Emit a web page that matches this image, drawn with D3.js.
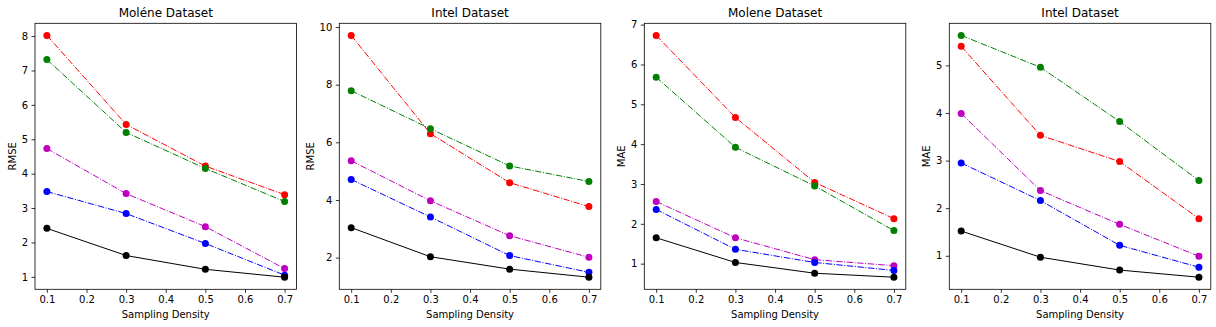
<!DOCTYPE html>
<html><head><meta charset="utf-8">
<script src="https://cdn.jsdelivr.net/npm/d3@7"></script>
<style>
html,body{margin:0;padding:0;background:#fff;}
svg{display:block;font-family:"DejaVu Sans",sans-serif;}
</style></head>
<body>
<svg id="chart" width="1216" height="327"></svg>
<script>
// ---- data ----
const density = [0.1, 0.3, 0.5, 0.7];
const xTicks = [0.1, 0.2, 0.3, 0.4, 0.5, 0.6, 0.7];
const titles = ["Moléne Dataset", "Intel Dataset", "Molene Dataset", "Intel Dataset"];
const yLabels = ["RMSE", "RMSE", "MAE", "MAE"];
const yTicks = [
  [1, 2, 3, 4, 5, 6, 7, 8],
  [2, 4, 6, 8, 10],
  [1, 2, 3, 4, 5, 6, 7],
  [1, 2, 3, 4, 5]
];
const seriesColors = ["#ff0000", "#008000", "#bf00bf", "#0000ff", "#000000"];
const seriesDash = ["dashdot", "dashdot", "dashdot", "dashdot", "solid"];
// values per panel, per series (red, green, magenta, blue, black)
const moleneRMSE = [
  [8.02, 5.43, 4.22, 3.39],
  [7.32, 5.20, 4.15, 3.19],
  [4.73, 3.42, 2.46, 1.24],
  [3.48, 2.84, 1.97, 1.05],
  [2.41, 1.62, 1.22, 0.99]
];
const intelRMSE = [
  [9.71, 6.30, 4.60, 3.77],
  [7.79, 6.47, 5.18, 4.64],
  [5.36, 3.97, 2.76, 2.01],
  [4.71, 3.41, 2.07, 1.49],
  [3.04, 2.03, 1.60, 1.32]
];
const moleneMAE = [
  [6.73, 4.67, 3.04, 2.13],
  [5.68, 3.92, 2.95, 1.83],
  [2.56, 1.65, 1.10, 0.95],
  [2.36, 1.36, 1.03, 0.83],
  [1.65, 1.03, 0.76, 0.66]
];
const intelMAE = [
  [5.40, 3.53, 2.98, 1.78],
  [5.63, 4.96, 3.82, 2.58],
  [3.99, 2.37, 1.66, 0.99],
  [2.95, 2.16, 1.22, 0.76],
  [1.52, 0.97, 0.70, 0.55]
];
const panels = [moleneRMSE, intelRMSE, moleneMAE, intelMAE];

// ---- layout ----
const svg = d3.select("#chart");
const axLefts = [35, 339.3, 644.3, 949.3];
const axW = 261.5, axTop = 23.3, axBottom = 289.3;
const dashMap = {dashdot: "6.4,1.6,1,1.6", solid: null};

panels.forEach((data, p) => {
  const left = axLefts[p];
  const x = d3.scaleLinear()
    .domain([0.1 - 0.03, 0.7 + 0.03])
    .range([left, left + axW]);
  const all = data.flat();
  const mn = d3.min(all), mx = d3.max(all), pad = (mx - mn) * 0.05;
  const y = d3.scaleLinear().domain([mn - pad, mx + pad]).range([axBottom, axTop]);

  const g = svg.append("g");

  const xa = g.append("g").attr("transform", `translate(0,${axBottom})`)
    .call(d3.axisBottom(x).tickValues(xTicks).tickFormat(d3.format(".1f")).tickSize(3.5).tickPadding(3.5));
  const ya = g.append("g").attr("transform", `translate(${left},0)`)
    .call(d3.axisLeft(y).tickValues(yTicks[p]).tickFormat(d3.format("d")).tickSize(3.5).tickPadding(3.5));
  [xa, ya].forEach(a => {
    a.select(".domain").remove();
    a.selectAll(".tick line").attr("stroke", "#000").attr("stroke-width", 0.8);
    a.selectAll(".tick text").attr("fill", "#000").style("font-size", "10px")
      .style("font-family", "'DejaVu Sans', sans-serif");
  });
  xa.selectAll(".tick text").attr("dy", "0.71em");

  const line = d3.line().x((d, i) => x(density[i])).y(d => y(d));
  data.forEach((s, si) => {
    g.append("path").datum(s)
      .attr("d", line)
      .attr("fill", "none")
      .attr("stroke", seriesColors[si])
      .attr("stroke-width", 1)
      .attr("stroke-dasharray", dashMap[seriesDash[si]]);
    g.selectAll(null).data(s).enter().append("circle")
      .attr("cx", (d, i) => x(density[i]))
      .attr("cy", d => y(d))
      .attr("r", 3.5)
      .attr("fill", seriesColors[si]);
  });

  g.append("rect").attr("x", left).attr("y", axTop).attr("width", axW).attr("height", axBottom - axTop)
    .attr("fill", "none").attr("stroke", "#000").attr("stroke-width", 0.8);

  g.append("text").attr("x", left + axW / 2).attr("y", axTop - 6)
    .attr("text-anchor", "middle").style("font-size", "12px").attr("fill", "#000")
    .text(titles[p]);

  g.append("text").attr("x", left + axW / 2).attr("y", 318)
    .attr("text-anchor", "middle").style("font-size", "10px").attr("fill", "#000")
    .text("Sampling Density");

  let maxW = 0;
  ya.selectAll(".tick text").each(function () { maxW = Math.max(maxW, this.getComputedTextLength()); });
  const lx = left - 3.5 - 3.5 - maxW - 5.5;
  g.append("text")
    .attr("transform", `translate(${lx},${(axTop + axBottom) / 2}) rotate(-90)`)
    .attr("text-anchor", "middle").style("font-size", "10px").attr("fill", "#000")
    .text(yLabels[p]);
});
</script>
</body></html>
